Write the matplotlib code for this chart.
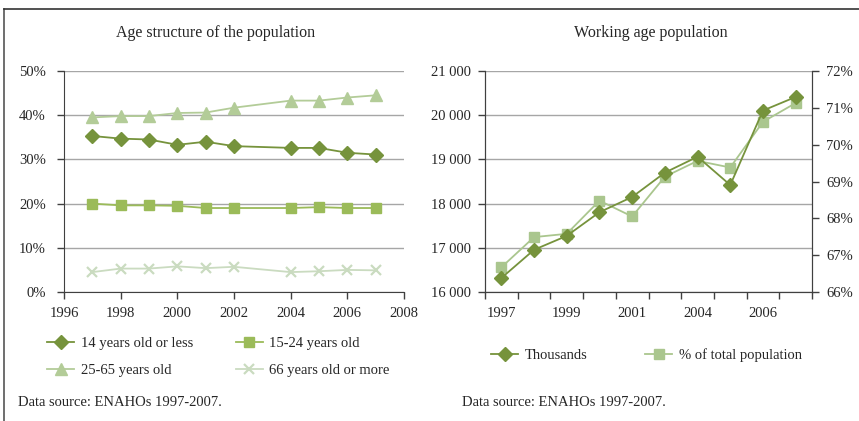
import matplotlib
matplotlib.use("Agg")
import matplotlib.pyplot as plt
from matplotlib.lines import Line2D
from matplotlib.ticker import FuncFormatter, FixedLocator

plt.rcParams['font.family'] = ['Liberation Serif', 'DejaVu Serif']
plt.rcParams['font.size'] = 10.5

# ---- data: left chart ----
years = [1997, 1998, 1999, 2000, 2001, 2002, 2004, 2005, 2006, 2007]
age_0_14 = [35.3, 34.7, 34.5, 33.3, 34.0, 33.0, 32.6, 32.6, 31.5, 31.1]
age_15_24 = [20.0, 19.6, 19.6, 19.5, 19.0, 19.0, 19.0, 19.2, 19.0, 19.0]
age_25_65 = [39.5, 39.8, 39.8, 40.5, 40.6, 41.7, 43.3, 43.3, 44.0, 44.5]
age_66p = [4.5, 5.3, 5.3, 5.8, 5.4, 5.7, 4.5, 4.7, 5.0, 4.9]

# ---- data: right chart ----
wa_years = ['1997', '1998', '1999', '2000', '2001', '2002', '2004', '2005', '2006', '2007']
wa_thousands = [16316, 16955, 17270, 17805, 18150, 18700, 19060, 18420, 20105, 20413]
wa_pct = [66.67, 67.49, 67.58, 68.48, 68.05, 69.13, 69.56, 69.38, 70.62, 71.13]
wa_tick_labels = ['1997', '1999', '2001', '2004', '2006']

c1 = '#76933c'
c2 = '#9bbb59'
c3 = '#b3cc98'
c4 = '#cadbc0'
cr2 = '#aac68e'
grid_c = '#a6a6a6'
axis_c = '#404040'
txt_c = '#262626'
fs = 10.5

fig = plt.figure(figsize=(8.59, 4.21), dpi=100)

# frame lines
fig.add_artist(Line2D([4/859, 4/859], [0, 1 - 9/421], color='#555555', lw=1.2, transform=fig.transFigure))
fig.add_artist(Line2D([4/859, 1], [1 - 9/421, 1 - 9/421], color='#333333', lw=1.2, transform=fig.transFigure))

# ---- left axes ----
ax1 = fig.add_axes([64/859, 1 - 292/421, 340/859, 221/421])
lw = 1.3
ax1.plot(years, age_0_14, color=c1, marker='D', ms=7, lw=lw, label='14 years old or less')
ax1.plot(years, age_15_24, color=c2, marker='s', ms=7.5, lw=lw, label='15-24 years old')
ax1.plot(years, age_25_65, color=c3, marker='^', ms=8, lw=lw, label='25-65 years old')
ax1.plot(years, age_66p, color=c4, marker='x', ms=7.5, mew=1.6, lw=lw, label='66 years old or more')
ax1.set_xlim(1996, 2008)
ax1.set_ylim(0, 50)
ax1.set_xticks(range(1996, 2009, 2))
ax1.set_yticks(range(0, 51, 10))
ax1.yaxis.set_major_formatter(FuncFormatter(lambda v, p: f'{int(v)}%'))
ax1.grid(axis='y', color=grid_c, lw=1)
ax1.set_axisbelow(True)
for s in ['top', 'right']:
    ax1.spines[s].set_visible(False)
for s in ['left', 'bottom']:
    ax1.spines[s].set_color(axis_c)
ax1.tick_params(colors=axis_c, labelcolor=txt_c, labelsize=fs, length=5, width=1)
ax1.tick_params(axis='y', pad=8)
ax1.tick_params(axis='x', pad=6)

fig.text(216/859, 1 - 33/421, 'Age structure of the population', ha='center', va='center', fontsize=11.5, color=txt_c)

h, l = ax1.get_legend_handles_labels()
order = [0, 2, 1, 3]
leg1 = fig.legend([h[i] for i in order], [l[i] for i in order], ncol=2, loc='upper left',
                  bbox_to_anchor=(34/859, 1 - 324/421),
                  frameon=False, fontsize=fs, handlelength=1.85, columnspacing=2.95,
                  labelspacing=0.95, handletextpad=0.45, labelcolor=txt_c)

fig.text(18/859, 1 - 403/421, 'Data source: ENAHOs 1997-2007.', ha='left', va='center', fontsize=fs, color=txt_c)

# ---- right axes ----
ax2 = fig.add_axes([485/859, 1 - 292/421, 327/859, 221/421])
xs = list(range(len(wa_years)))
ax3 = ax2.twinx()
l1, = ax2.plot(xs, wa_thousands, color=c1, marker='D', ms=7, lw=lw, label='Thousands', zorder=3)
l2, = ax3.plot(xs, wa_pct, color=cr2, marker='s', ms=7.5, lw=lw, label='% of total population', zorder=2)
ax2.set_zorder(ax3.get_zorder() + 1)
ax2.patch.set_visible(False)
ax2.set_xlim(-0.5, len(xs) - 0.5)
ax2.set_ylim(16000, 21000)
ax3.set_ylim(66, 72)
ax2.set_yticks(range(16000, 21001, 1000))
ax2.yaxis.set_major_formatter(FuncFormatter(lambda v, p: f'{int(v)//1000} {int(v)%1000:03d}'))
ax3.set_yticks(range(66, 73))
ax3.yaxis.set_major_formatter(FuncFormatter(lambda v, p: f'{int(v)}%'))
ax2.set_xticks([0, 2, 4, 6, 8])
ax2.set_xticklabels(wa_tick_labels)
ax2.tick_params(axis='x', which='major', length=0, pad=11)
ax2.xaxis.set_minor_locator(FixedLocator([i - 0.5 for i in range(len(xs) + 1)]))
ax2.tick_params(axis='x', which='minor', length=5, width=1, color=axis_c)
for a in (ax2, ax3):
    a.spines['top'].set_visible(False)
    for s in ['left', 'right', 'bottom']:
        a.spines[s].set_color(axis_c)
    a.tick_params(axis='y', colors=axis_c, labelcolor=txt_c, labelsize=fs, length=5, width=1, pad=5)
ax2.tick_params(axis='x', labelcolor=txt_c, labelsize=fs)

# gridlines at the left-axis ticks, behind both series
for v in ax2.get_yticks():
    ax3.axhline(66 + (v - 16000) / 5000 * 6, color=grid_c, lw=1, zorder=0)

fig.text(651/859, 1 - 33/421, 'Working age population', ha='center', va='center', fontsize=11.5, color=txt_c)

leg2 = fig.legend([l1, l2], ['Thousands', '% of total population'], ncol=2, loc='upper left',
                  bbox_to_anchor=(478/859, 1 - 335/421), frameon=False, fontsize=fs,
                  handlelength=1.85, columnspacing=3.97, handletextpad=0.45, labelcolor=txt_c)

fig.text(462/859, 1 - 403/421, 'Data source: ENAHOs 1997-2007.', ha='left', va='center', fontsize=fs, color=txt_c)

fig.savefig('out.png', dpi=100)
